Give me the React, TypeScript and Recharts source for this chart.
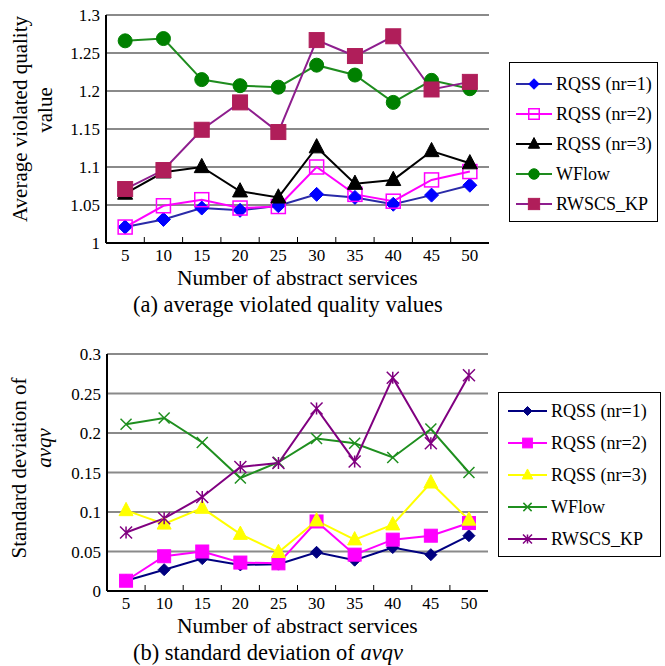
import React from 'react';
import { LineChart, Line, XAxis, YAxis, CartesianGrid, Legend } from 'recharts';

const services = [5, 10, 15, 20, 25, 30, 35, 40, 45, 50];
const seriesNames = ['RQSS (nr=1)', 'RQSS (nr=2)', 'RQSS (nr=3)', 'WFlow', 'RWSCS_KP'];

// (a) average violated quality values
const avgRqss1 = [1.021, 1.031, 1.046, 1.043, 1.049, 1.064, 1.06, 1.051, 1.063, 1.076];
const avgRqss2 = [1.021, 1.049, 1.057, 1.046, 1.048, 1.1, 1.064, 1.055, 1.083, 1.094];
const avgRqss3 = [1.065, 1.093, 1.1, 1.068, 1.06, 1.126, 1.078, 1.083, 1.121, 1.105];
const avgWflow = [1.266, 1.269, 1.215, 1.207, 1.205, 1.234, 1.221, 1.185, 1.214, 1.203];
const avgRwscs = [1.071, 1.096, 1.149, 1.185, 1.146, 1.267, 1.246, 1.272, 1.202, 1.212];
const avgTicks = [1, 1.05, 1.1, 1.15, 1.2, 1.25, 1.3];

// (b) standard deviation of avqv
const sdRqss1 = [0.013, 0.027, 0.041, 0.033, 0.034, 0.049, 0.039, 0.055, 0.046, 0.07];
const sdRqss2 = [0.013, 0.044, 0.05, 0.036, 0.035, 0.088, 0.046, 0.065, 0.07, 0.086];
const sdRqss3 = [0.102, 0.085, 0.105, 0.072, 0.049, 0.089, 0.065, 0.084, 0.137, 0.09];
const sdWflow = [0.211, 0.219, 0.188, 0.143, 0.163, 0.193, 0.187, 0.169, 0.205, 0.15];
const sdRwscs = [0.074, 0.092, 0.119, 0.157, 0.162, 0.231, 0.164, 0.27, 0.187, 0.273];
const sdTicks = [0, 0.05, 0.1, 0.15, 0.2, 0.25, 0.3];

const toRows = (cols: number[][]) =>
  services.map((n, i) => {
    const row: any = { n };
    cols.forEach((c, j) => (row['s' + j] = c[i]));
    return row;
  });

const avgRows = toRows([avgRqss1, avgRqss2, avgRqss3, avgWflow, avgRwscs]);
const sdRows = toRows([sdRqss1, sdRqss2, sdRqss3, sdWflow, sdRwscs]);

type Shape = 'diamond' | 'square' | 'triangle' | 'circle' | 'cross' | 'star';
type SeriesStyle = { line: string; marker: string; shape: Shape; size: number; hollow?: boolean };

const avgStyles: SeriesStyle[] = [
  { line: '#2a2aa8', marker: '#0000ff', shape: 'diamond', size: 7 },
  { line: '#ff00ff', marker: '#ff00ff', shape: 'square', size: 7, hollow: true },
  { line: '#000000', marker: '#000000', shape: 'triangle', size: 7.5 },
  { line: '#1e8c1e', marker: '#008000', shape: 'circle', size: 7 },
  { line: '#8e1e8e', marker: '#b01e5a', shape: 'square', size: 7.5 },
];

const sdStyles: SeriesStyle[] = [
  { line: '#000080', marker: '#000080', shape: 'diamond', size: 6 },
  { line: '#ff00ff', marker: '#ff00ff', shape: 'square', size: 6.5 },
  { line: '#ffff00', marker: '#ffff00', shape: 'triangle', size: 7 },
  { line: '#1f8f1f', marker: '#1f8f1f', shape: 'cross', size: 5.5 },
  { line: '#800080', marker: '#800080', shape: 'star', size: 6 },
];

const FONT = "'Liberation Serif', 'Times New Roman', serif";

function marker(st: SeriesStyle, cx: number, cy: number, k = 1) {
  const s = st.size * k;
  const fill = st.hollow ? 'none' : st.marker;
  switch (st.shape) {
    case 'diamond':
      return <polygon points={`${cx},${cy - s} ${cx + s},${cy} ${cx},${cy + s} ${cx - s},${cy}`} fill={fill} stroke={st.marker} />;
    case 'square':
      return <rect x={cx - s} y={cy - s} width={2 * s} height={2 * s} fill={fill} stroke={st.marker} strokeWidth={st.hollow ? 1.5 : 1} />;
    case 'triangle':
      return <polygon points={`${cx},${cy - s * 1.15} ${cx + s},${cy + s * 0.75} ${cx - s},${cy + s * 0.75}`} fill={fill} stroke={st.marker} />;
    case 'circle':
      return <circle cx={cx} cy={cy} r={s} fill={fill} stroke={st.marker} />;
    case 'cross':
      return <path d={`M${cx - s},${cy - s}L${cx + s},${cy + s}M${cx - s},${cy + s}L${cx + s},${cy - s}`} stroke={st.marker} strokeWidth={1.5} fill="none" />;
    case 'star':
      return (
        <path
          d={`M${cx - s},${cy - s}L${cx + s},${cy + s}M${cx - s},${cy + s}L${cx + s},${cy - s}M${cx},${cy - s}L${cx},${cy + s}`}
          stroke={st.marker}
          strokeWidth={1.5}
          fill="none"
        />
      );
  }
  return null;
}

const makeDot = (st: SeriesStyle) => (p: any) => (
  <g key={`dot-${p.index}`}>{p.cx != null && p.cy != null ? marker(st, p.cx, p.cy) : null}</g>
);

// category labels sit in the middle of each slot, tick marks between slots
const makeTick = (half: number) => (p: any) => (
  <g>
    <text x={p.x} y={p.y + 18} textAnchor="middle" fontSize={17} fill="#000">
      {p.payload.value}
    </text>
    {p.index < services.length - 1 && (
      <line x1={p.x + half} x2={p.x + half} y1={p.y} y2={p.y - 6} stroke="#000" strokeWidth={1} />
    )}
  </g>
);

const LegendBox = ({ styles, width, height, padTop, rowH, padLeft, sampleW }: any) => (
  <div
    style={{
      width,
      height,
      boxSizing: 'border-box',
      border: '1.5px solid #000',
      background: '#fff',
      paddingTop: padTop,
      paddingLeft: padLeft,
      fontFamily: FONT,
    }}
  >
    {seriesNames.map((name, i) => (
      <div key={name} style={{ display: 'flex', alignItems: 'center', height: rowH }}>
        <svg width={sampleW} height={18} style={{ flex: 'none' }}>
          <line x1={0} x2={sampleW} y1={9} y2={9} stroke={styles[i].line} strokeWidth={2} />
          {marker(styles[i], sampleW / 2, 9, 0.75)}
        </svg>
        <span style={{ marginLeft: 4, fontSize: 18, color: '#000', whiteSpace: 'nowrap' }}>{name}</span>
      </div>
    ))}
  </div>
);

type PanelProps = {
  rows: any[];
  styles: SeriesStyle[];
  ticks: number[];
  top: number;
  height: number;
  margin: { top: number; right: number; left: number; bottom: number };
  yWidth: number;
  xHeight: number;
  half: number;
  yTitle: { text: string; x: number; y: number; italic?: boolean }[];
  caption: React.ReactNode;
  legend: any;
};

const Panel = ({ rows, styles, ticks, top, height, margin, yWidth, xHeight, half, yTitle, caption, legend }: PanelProps) => (
  <div style={{ position: 'absolute', left: 0, top }}>
    <LineChart width={665} height={height} data={rows} margin={margin}>
      <CartesianGrid vertical={false} stroke="#8a8a8a" strokeWidth={2} />
      <XAxis
        dataKey="n"
        height={xHeight}
        interval={0}
        padding={{ left: half, right: half }}
        tickSize={0}
        tickMargin={0}
        tickLine={false}
        axisLine={{ stroke: '#000', strokeWidth: 2 }}
        tick={makeTick(half)}
        label={{
          content: (p: any) => (
            <g>
              <text x={177} y={p.viewBox.y + 42} fontSize={21.5} fill="#000">
                Number of abstract services
              </text>
              <text x={133} y={p.viewBox.y + 69} fontSize={22.5} fill="#000">
                {caption}
              </text>
            </g>
          ),
        }}
      />
      <XAxis xAxisId="top" dataKey="n" orientation="top" height={0} tick={false} tickLine={false} axisLine={{ stroke: '#000', strokeWidth: 2 }} />
      <YAxis
        type="number"
        width={yWidth}
        domain={[ticks[0], ticks[ticks.length - 1]]}
        ticks={ticks}
        interval={0}
        tickSize={0}
        tickMargin={6}
        tickLine={false}
        axisLine={{ stroke: '#000', strokeWidth: 2 }}
        tick={{ fontSize: 17, fill: '#000' }}
        label={{
          content: () => (
            <g>
              {yTitle.map((t) => (
                <text
                  key={t.text}
                  transform={`translate(${t.x},${t.y}) rotate(-90)`}
                  textAnchor="middle"
                  fontSize={21}
                  fontStyle={t.italic ? 'italic' : 'normal'}
                  fill="#000"
                >
                  {t.text}
                </text>
              ))}
            </g>
          ),
        }}
      />
      <YAxis yAxisId="right" orientation="right" width={0} tick={false} tickLine={false} axisLine={{ stroke: '#000', strokeWidth: 2 }} />
      <Legend
        layout="horizontal"
        verticalAlign="middle"
        align="center"
        wrapperStyle={{ left: legend.left, top: legend.top, width: legend.width, height: legend.height }}
        content={() => <LegendBox styles={styles} {...legend} />}
      />
      {styles.map((st, i) => (
        <Line
          key={i}
          dataKey={'s' + i}
          name={seriesNames[i]}
          stroke={st.line}
          strokeWidth={2}
          dot={makeDot(st)}
          activeDot={false}
          isAnimationActive={false}
        />
      ))}
    </LineChart>
  </div>
);

export default function App() {
  return (
    <div style={{ position: 'absolute', left: 0, top: 0, width: 665, height: 666, background: '#fff', fontFamily: FONT }}>
      <Panel
        rows={avgRows}
        styles={avgStyles}
        ticks={avgTicks}
        top={0}
        height={320}
        margin={{ top: 15, right: 176, left: 0, bottom: 0 }}
        yWidth={106}
        xHeight={77}
        half={19.15}
        yTitle={[
          { text: 'Average violated quality', x: 27, y: 119 },
          { text: 'value', x: 52, y: 110 },
        ]}
        caption="(a) average violated quality values"
        legend={{ left: 509, top: 62, width: 149, height: 160, padTop: 6, rowH: 30, padLeft: 6, sampleW: 36 }}
      />
      <Panel
        rows={sdRows}
        styles={sdStyles}
        ticks={sdTicks}
        top={330}
        height={336}
        margin={{ top: 24, right: 177, left: 0, bottom: 0 }}
        yWidth={107}
        xHeight={75}
        half={19.05}
        yTitle={[
          { text: 'Standard deviation of', x: 26, y: 138 },
          { text: 'avqv', x: 51, y: 118, italic: true },
        ]}
        caption={
          <>
            (b) standard deviation of <tspan fontStyle="italic">avqv</tspan>
          </>
        }
        legend={{ left: 498, top: 62, width: 163, height: 165, padTop: 2, rowH: 32, padLeft: 9, sampleW: 39 }}
      />
    </div>
  );
}
